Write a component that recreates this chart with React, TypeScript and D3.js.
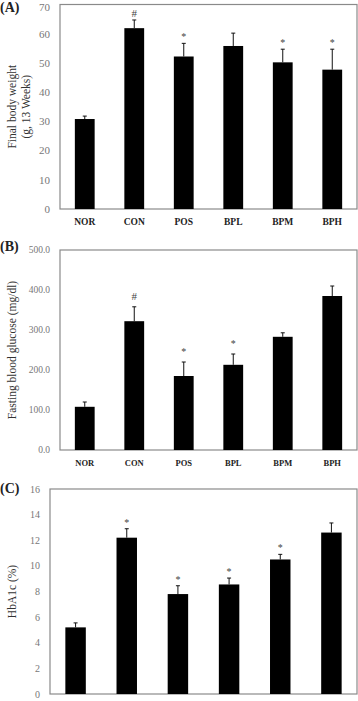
import React from "react";
import * as d3 from "d3";

const groups = ["NOR", "CON", "POS", "BPL", "BPM", "BPH"];

const bodyWeight = [30.8, 61.9, 52.2, 55.8, 50.2, 47.7];
const bodyWeightErr = [1.0, 2.8, 4.5, 4.4, 4.5, 7.0];
const bodyWeightMarks = ["", "#", "*", "", "*", "*"];
const bodyWeightTicks = [0, 10, 20, 30, 40, 50, 60, 70];

const glucose = [108, 322, 185, 213, 283, 385];
const glucoseErr = [12, 36, 35, 27, 10, 25];
const glucoseMarks = ["", "#", "*", "*", "", ""];
const glucoseTicks = [0, 100, 200, 300, 400, 500];

const hba1c = [5.2, 12.2, 7.8, 8.55, 10.5, 12.6];
const hba1cErr = [0.35, 0.7, 0.65, 0.5, 0.4, 0.75];
const hba1cMarks = ["", "*", "*", "*", "*", ""];
const hba1cTicks = [0, 2, 4, 6, 8, 10, 12, 14, 16];

const serif = "'Liberation Serif', 'DejaVu Serif', serif";

interface PanelProps {
  tag: string;
  tagY: number;
  values: number[];
  errors: number[];
  marks: string[];
  ticks: number[];
  tickFormat: (v: number) => string;
  tickSize: number;
  titleLines: string[];
  titleX: number[];
  left: number;
  right: number;
  top: number;
  bottom: number;
  markGap: number;
  showX: boolean;
  xSize: number;
}

const Panel: React.FC<PanelProps> = ({
  tag,
  tagY,
  values,
  errors,
  marks,
  ticks,
  tickFormat,
  tickSize,
  titleLines,
  titleX,
  left,
  right,
  top,
  bottom,
  markGap,
  showX,
  xSize,
}) => {
  const x = d3.scaleBand<string>().domain(groups).range([left, right]).paddingInner(0.6).paddingOuter(0.3);
  const y = d3
    .scaleLinear()
    .domain([0, ticks[ticks.length - 1]])
    .range([bottom, top]);
  const midY = (top + bottom) / 2;

  return (
    <g>
      <text x={0} y={tagY} fontFamily={serif} fontWeight="bold" fontSize={14} fill="#222">
        {tag}
      </text>
      {titleLines.map((t, i) => (
        <text
          key={t}
          transform={`translate(${titleX[i]},${midY}) rotate(-90)`}
          textAnchor="middle"
          fontFamily={serif}
          fontSize={11.5}
          fill="#333"
        >
          {t}
        </text>
      ))}
      {ticks.map((t) => (
        <text
          key={t}
          x={left - 10}
          y={Math.max(y(t), 7)}
          dy="0.35em"
          textAnchor="end"
          fontFamily={serif}
          fontSize={tickSize}
          fill="#777"
        >
          {tickFormat(t)}
        </text>
      ))}
      <rect
        x={left}
        y={top}
        width={right - left}
        height={bottom - top}
        fill="none"
        stroke="#8a8a8a"
        strokeWidth={1.2}
      />
      {groups.map((g, i) => {
        const cx = (x(g) as number) + x.bandwidth() / 2;
        const errTop = y(values[i] + errors[i]);
        return (
          <g key={g}>
            <rect
              x={x(g)}
              y={y(values[i])}
              width={x.bandwidth()}
              height={bottom - y(values[i])}
              fill="#000"
            />
            <line x1={cx} x2={cx} y1={y(values[i])} y2={errTop} stroke="#111" strokeWidth={1} />
            <line x1={cx - 2} x2={cx + 2} y1={errTop} y2={errTop} stroke="#111" strokeWidth={1} />
            {marks[i] && (
              <text
                x={cx}
                y={errTop - markGap}
                textAnchor="middle"
                fontFamily={serif}
                fontSize={marks[i] === "#" ? 11 : 10}
                fill="#444"
              >
                {marks[i]}
              </text>
            )}
            {showX && (
              <text
                x={cx}
                y={bottom + 16}
                textAnchor="middle"
                fontFamily={serif}
                fontWeight="bold"
                fontSize={xSize}
                fill="#222"
              >
                {g}
              </text>
            )}
          </g>
        );
      })}
    </g>
  );
};

const App: React.FC = () => {
  return (
    <svg
      width={358}
      height={701}
      style={{ position: "absolute", left: 0, top: 0, background: "#fff" }}
    >
      <Panel
        tag="(A)"
        tagY={12}
        values={bodyWeight}
        errors={bodyWeightErr}
        marks={bodyWeightMarks}
        ticks={bodyWeightTicks}
        tickFormat={(v) => String(v)}
        tickSize={11}
        titleLines={["Final body weight", "(g, 13 Weeks)"]}
        titleX={[16, 30]}
        left={60}
        right={357}
        top={4.5}
        bottom={209}
        markGap={3}
        showX={true}
        xSize={9.5}
      />
      <Panel
        tag="(B)"
        tagY={251}
        values={glucose}
        errors={glucoseErr}
        marks={glucoseMarks}
        ticks={glucoseTicks}
        tickFormat={(v) => v.toFixed(1)}
        tickSize={9.5}
        titleLines={["Fasting blood glucose (mg/dl)"]}
        titleX={[16]}
        left={60}
        right={357}
        top={250}
        bottom={450}
        markGap={7}
        showX={true}
        xSize={8.5}
      />
      <Panel
        tag="(C)"
        tagY={493}
        values={hba1c}
        errors={hba1cErr}
        marks={hba1cMarks}
        ticks={hba1cTicks}
        tickFormat={(v) => String(v)}
        tickSize={10}
        titleLines={["HbA1c (%)"]}
        titleX={[16]}
        left={50}
        right={357}
        top={489}
        bottom={694}
        markGap={3}
        showX={false}
        xSize={9}
      />
    </svg>
  );
};

export default App;
